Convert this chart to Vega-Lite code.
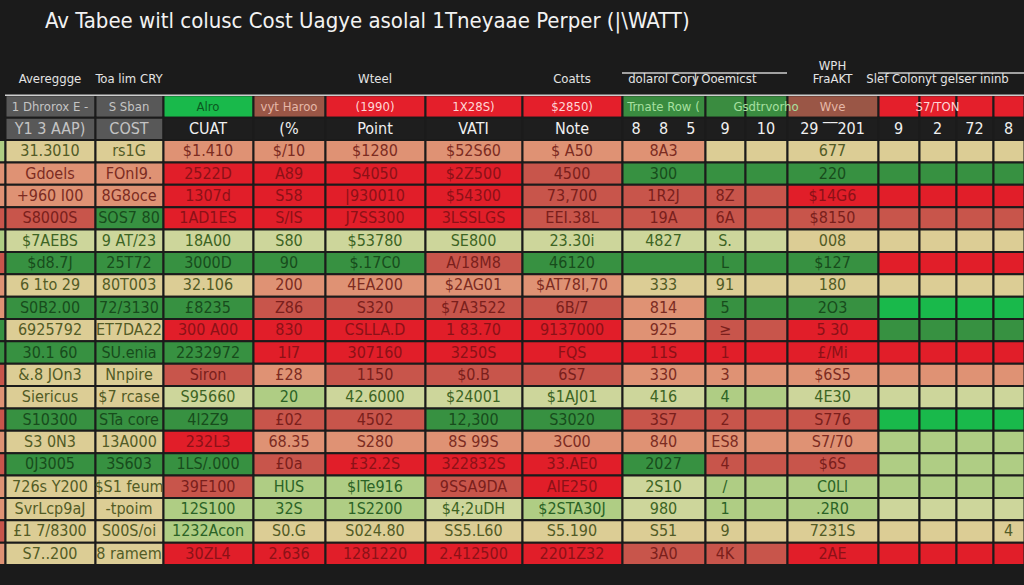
{
"$schema": "https://vega.github.io/schema/vega-lite/v6.json",
"width": 1024, "height": 492, "autosize": "none",
"padding": {"left": 0, "top": 73, "right": 0, "bottom": 20},
"background": "#1b1b1b",
"title": {"text": "Av Tabee witl colusc Cost Uagye asolal 1Tneyaae Perper  (|\\WATT)", "anchor": "start", "frame": "group", "dx": 45, "offset": 10, "baseline": "alphabetic", "fontSize": 22, "font": "DejaVu Sans Condensed, DejaVu Sans, sans-serif", "fontWeight": "normal", "color": "#f2f2f2"},
"config": {"view": {"stroke": null}},
"data": {"values": [
{"row":"h0","col":7,"col2":10,"lv":"ln"},{"row":"h0","col":11,"col2":15,"lv":"ln"},{"row":"h1","col":0,"col2":15,"lv":"ln"},
{"row":"h0","col":0,"lv":"n","t":"Avereggge"},{"row":"h0","col":1,"lv":"n","t":"Toa lim CRY"},{"row":"h0","col":4,"lv":"n","t":"Wteel"},{"row":"h0","col":6,"lv":"n","t":"Coatts"},{"row":"h0","col":7,"lv":"n","t":"dolarol Cory"},{"row":"h0","col":8,"lv":"n","t":"| Ooemicst"},{"row":"h0","col":10,"lv":"n","t":"WPH\nFraAKT"},{"row":"h0","col":12,"lv":"n","t":"Slef Colonyt gelser ininb"},
{"row":"h1","col":0,"lv":"k","t":"1 Dhrorox E -"},{"row":"h1","col":1,"lv":"k","t":"S Sban"},{"row":"h1","col":2,"lv":"G","t":"Alro"},{"row":"h1","col":3,"lv":"b","t":"vyt Haroo"},{"row":"h1","col":4,"lv":"HR","t":"(1990)"},{"row":"h1","col":5,"lv":"HR","t":"1X28S)"},{"row":"h1","col":6,"lv":"HR","t":"$2850)"},{"row":"h1","col":7,"lv":"HG","t":"Trnate Row ("},{"row":"h1","col":8,"lv":"HG","t":""},{"row":"h1","col":9,"lv":"HG","t":"Gsdtrvorho"},{"row":"h1","col":10,"lv":"b","t":"Wve"},{"row":"h1","col":11,"lv":"HR","t":""},{"row":"h1","col":12,"lv":"HR","t":"S7/TON"},{"row":"h1","col":13,"lv":"HR","t":""},{"row":"h1","col":14,"lv":"HR","t":""},
{"row":"h2","col":0,"lv":"k","t":"Y1 3 AAP)"},{"row":"h2","col":1,"lv":"k","t":"COST"},{"row":"h2","col":2,"lv":"d","t":"CUAT"},{"row":"h2","col":3,"lv":"d","t":"(%"},{"row":"h2","col":4,"lv":"d","t":"Point"},{"row":"h2","col":5,"lv":"d","t":"VATI"},{"row":"h2","col":6,"lv":"d","t":"Note"},{"row":"h2","col":7,"lv":"d","t":"8\u00a0\u00a0\u00a0\u00a08\u00a0\u00a0\u00a0\u00a05"},{"row":"h2","col":8,"lv":"d","t":"9"},{"row":"h2","col":9,"lv":"d","t":"10"},{"row":"h2","col":10,"lv":"d","t":"29 ‾‾201"},{"row":"h2","col":11,"lv":"d","t":"9"},{"row":"h2","col":12,"lv":"d","t":"2"},{"row":"h2","col":13,"lv":"d","t":"72"},{"row":"h2","col":14,"lv":"d","t":"8"},
{"row":"1","col":-1,"lv":"l","t":""},{"row":"1","col":0,"lv":"c","t":"31.3010"},{"row":"1","col":1,"lv":"c","t":"rs1G"},{"row":"1","col":2,"lv":"s","t":"$1.410"},{"row":"1","col":3,"lv":"s","t":"$/10"},{"row":"1","col":4,"lv":"s","t":"$1280"},{"row":"1","col":5,"lv":"s","t":"$52S60"},{"row":"1","col":6,"lv":"s","t":"$ A50"},{"row":"1","col":7,"lv":"s","t":"8A3"},{"row":"1","col":8,"lv":"c","t":""},{"row":"1","col":9,"lv":"c","t":""},{"row":"1","col":10,"lv":"c","t":"677"},{"row":"1","col":11,"lv":"c","t":""},{"row":"1","col":12,"lv":"c","t":""},{"row":"1","col":13,"lv":"c","t":""},{"row":"1","col":14,"lv":"c","t":""},
{"row":"2","col":-1,"lv":"s","t":""},{"row":"2","col":0,"lv":"s","t":"Gdoels"},{"row":"2","col":1,"lv":"s","t":"FOnI9."},{"row":"2","col":2,"lv":"R","t":"2522D"},{"row":"2","col":3,"lv":"R","t":"A89"},{"row":"2","col":4,"lv":"R","t":"S4050"},{"row":"2","col":5,"lv":"R","t":"$2Z500"},{"row":"2","col":6,"lv":"r","t":"4500"},{"row":"2","col":7,"lv":"g","t":"300"},{"row":"2","col":8,"lv":"g","t":""},{"row":"2","col":9,"lv":"g","t":""},{"row":"2","col":10,"lv":"g","t":"220"},{"row":"2","col":11,"lv":"g","t":""},{"row":"2","col":12,"lv":"g","t":""},{"row":"2","col":13,"lv":"g","t":""},{"row":"2","col":14,"lv":"g","t":""},
{"row":"3","col":-1,"lv":"s","t":""},{"row":"3","col":0,"lv":"s","t":"+960 I00"},{"row":"3","col":1,"lv":"s","t":"8G8oce"},{"row":"3","col":2,"lv":"R","t":"1307d"},{"row":"3","col":3,"lv":"R","t":"S58"},{"row":"3","col":4,"lv":"R","t":"|930010"},{"row":"3","col":5,"lv":"R","t":"$54300"},{"row":"3","col":6,"lv":"r","t":"73,700"},{"row":"3","col":7,"lv":"r","t":"1R2J"},{"row":"3","col":8,"lv":"r","t":"8Z"},{"row":"3","col":9,"lv":"r","t":""},{"row":"3","col":10,"lv":"R","t":"$14G6"},{"row":"3","col":11,"lv":"R","t":""},{"row":"3","col":12,"lv":"R","t":""},{"row":"3","col":13,"lv":"R","t":""},{"row":"3","col":14,"lv":"R","t":""},
{"row":"4","col":-1,"lv":"r","t":""},{"row":"4","col":0,"lv":"r","t":"S8000S"},{"row":"4","col":1,"lv":"g","t":"SOS7 80"},{"row":"4","col":2,"lv":"R","t":"1AD1ES"},{"row":"4","col":3,"lv":"R","t":"S/IS"},{"row":"4","col":4,"lv":"R","t":"J7SS300"},{"row":"4","col":5,"lv":"R","t":"3LSSLGS"},{"row":"4","col":6,"lv":"r","t":"EEI.38L"},{"row":"4","col":7,"lv":"r","t":"19A"},{"row":"4","col":8,"lv":"r","t":"6A"},{"row":"4","col":9,"lv":"r","t":""},{"row":"4","col":10,"lv":"r","t":"$8150"},{"row":"4","col":11,"lv":"r","t":""},{"row":"4","col":12,"lv":"r","t":""},{"row":"4","col":13,"lv":"r","t":""},{"row":"4","col":14,"lv":"r","t":""},
{"row":"5","col":-1,"lv":"l","t":""},{"row":"5","col":0,"lv":"y","t":"$7AEBS"},{"row":"5","col":1,"lv":"y","t":"9 AT/23"},{"row":"5","col":2,"lv":"y","t":"18A00"},{"row":"5","col":3,"lv":"y","t":"S80"},{"row":"5","col":4,"lv":"y","t":"$53780"},{"row":"5","col":5,"lv":"y","t":"SE800"},{"row":"5","col":6,"lv":"y","t":"23.30i"},{"row":"5","col":7,"lv":"y","t":"4827"},{"row":"5","col":8,"lv":"y","t":"S."},{"row":"5","col":9,"lv":"y","t":""},{"row":"5","col":10,"lv":"c","t":"008"},{"row":"5","col":11,"lv":"c","t":""},{"row":"5","col":12,"lv":"c","t":""},{"row":"5","col":13,"lv":"c","t":""},{"row":"5","col":14,"lv":"c","t":""},
{"row":"6","col":-1,"lv":"r","t":""},{"row":"6","col":0,"lv":"g","t":"$d8.7J"},{"row":"6","col":1,"lv":"g","t":"25T72"},{"row":"6","col":2,"lv":"g","t":"3000D"},{"row":"6","col":3,"lv":"g","t":"90"},{"row":"6","col":4,"lv":"g","t":"$.17C0"},{"row":"6","col":5,"lv":"r","t":"A/18M8"},{"row":"6","col":6,"lv":"g","t":"46120"},{"row":"6","col":7,"lv":"g","t":""},{"row":"6","col":8,"lv":"g","t":"L"},{"row":"6","col":9,"lv":"g","t":""},{"row":"6","col":10,"lv":"g","t":"$127"},{"row":"6","col":11,"lv":"R","t":""},{"row":"6","col":12,"lv":"R","t":""},{"row":"6","col":13,"lv":"R","t":""},{"row":"6","col":14,"lv":"R","t":""},
{"row":"7","col":-1,"lv":"s","t":""},{"row":"7","col":0,"lv":"c","t":"6 1to 29"},{"row":"7","col":1,"lv":"c","t":"80T003"},{"row":"7","col":2,"lv":"c","t":"32.106"},{"row":"7","col":3,"lv":"s","t":"200"},{"row":"7","col":4,"lv":"s","t":"4EA200"},{"row":"7","col":5,"lv":"s","t":"$2AG01"},{"row":"7","col":6,"lv":"s","t":"$AT78I,70"},{"row":"7","col":7,"lv":"c","t":"333"},{"row":"7","col":8,"lv":"c","t":"91"},{"row":"7","col":9,"lv":"c","t":""},{"row":"7","col":10,"lv":"c","t":"180"},{"row":"7","col":11,"lv":"c","t":""},{"row":"7","col":12,"lv":"c","t":""},{"row":"7","col":13,"lv":"c","t":""},{"row":"7","col":14,"lv":"c","t":""},
{"row":"8","col":-1,"lv":"s","t":""},{"row":"8","col":0,"lv":"g","t":"S0B2.00"},{"row":"8","col":1,"lv":"g","t":"72/3130"},{"row":"8","col":2,"lv":"g","t":"£8235"},{"row":"8","col":3,"lv":"r","t":"Z86"},{"row":"8","col":4,"lv":"r","t":"S320"},{"row":"8","col":5,"lv":"r","t":"$7A3522"},{"row":"8","col":6,"lv":"r","t":"6B/7"},{"row":"8","col":7,"lv":"s","t":"814"},{"row":"8","col":8,"lv":"g","t":"5"},{"row":"8","col":9,"lv":"g","t":""},{"row":"8","col":10,"lv":"g","t":"2O3"},{"row":"8","col":11,"lv":"G","t":""},{"row":"8","col":12,"lv":"G","t":""},{"row":"8","col":13,"lv":"G","t":""},{"row":"8","col":14,"lv":"G","t":""},
{"row":"9","col":-1,"lv":"g","t":""},{"row":"9","col":0,"lv":"c","t":"6925792"},{"row":"9","col":1,"lv":"c","t":"ET7DA22"},{"row":"9","col":2,"lv":"R","t":"300 A00"},{"row":"9","col":3,"lv":"R","t":"830"},{"row":"9","col":4,"lv":"R","t":"CSLLA.D"},{"row":"9","col":5,"lv":"R","t":"1 83.70"},{"row":"9","col":6,"lv":"R","t":"9137000"},{"row":"9","col":7,"lv":"s","t":"925"},{"row":"9","col":8,"lv":"r","t":"≥"},{"row":"9","col":9,"lv":"r","t":""},{"row":"9","col":10,"lv":"R","t":"5 30"},{"row":"9","col":11,"lv":"g","t":""},{"row":"9","col":12,"lv":"g","t":""},{"row":"9","col":13,"lv":"g","t":""},{"row":"9","col":14,"lv":"g","t":""},
{"row":"10","col":-1,"lv":"g","t":""},{"row":"10","col":0,"lv":"g","t":"30.1 60"},{"row":"10","col":1,"lv":"g","t":"SU.enia"},{"row":"10","col":2,"lv":"g","t":"2232972"},{"row":"10","col":3,"lv":"R","t":"1I7"},{"row":"10","col":4,"lv":"R","t":"307160"},{"row":"10","col":5,"lv":"R","t":"3250S"},{"row":"10","col":6,"lv":"R","t":"FQS"},{"row":"10","col":7,"lv":"R","t":"11S"},{"row":"10","col":8,"lv":"R","t":"1"},{"row":"10","col":9,"lv":"R","t":""},{"row":"10","col":10,"lv":"R","t":"£/Mi"},{"row":"10","col":11,"lv":"R","t":""},{"row":"10","col":12,"lv":"R","t":""},{"row":"10","col":13,"lv":"R","t":""},{"row":"10","col":14,"lv":"R","t":""},
{"row":"11","col":-1,"lv":"r","t":""},{"row":"11","col":0,"lv":"c","t":"&.8 JOn3"},{"row":"11","col":1,"lv":"c","t":"Nnpire"},{"row":"11","col":2,"lv":"r","t":"Siron"},{"row":"11","col":3,"lv":"s","t":"£28"},{"row":"11","col":4,"lv":"r","t":"1150"},{"row":"11","col":5,"lv":"r","t":"$0.B"},{"row":"11","col":6,"lv":"r","t":"6S7"},{"row":"11","col":7,"lv":"s","t":"330"},{"row":"11","col":8,"lv":"s","t":"3"},{"row":"11","col":9,"lv":"s","t":""},{"row":"11","col":10,"lv":"s","t":"$6S5"},{"row":"11","col":11,"lv":"s","t":""},{"row":"11","col":12,"lv":"s","t":""},{"row":"11","col":13,"lv":"s","t":""},{"row":"11","col":14,"lv":"s","t":""},
{"row":"12","col":-1,"lv":"s","t":""},{"row":"12","col":0,"lv":"c","t":"Siericus"},{"row":"12","col":1,"lv":"c","t":"$7 rcase"},{"row":"12","col":2,"lv":"y","t":"S95660"},{"row":"12","col":3,"lv":"l","t":"20"},{"row":"12","col":4,"lv":"y","t":"42.6000"},{"row":"12","col":5,"lv":"y","t":"$24001"},{"row":"12","col":6,"lv":"y","t":"$1AJ01"},{"row":"12","col":7,"lv":"y","t":"416"},{"row":"12","col":8,"lv":"l","t":"4"},{"row":"12","col":9,"lv":"l","t":""},{"row":"12","col":10,"lv":"y","t":"4E30"},{"row":"12","col":11,"lv":"y","t":""},{"row":"12","col":12,"lv":"y","t":""},{"row":"12","col":13,"lv":"y","t":""},{"row":"12","col":14,"lv":"y","t":""},
{"row":"13","col":-1,"lv":"r","t":""},{"row":"13","col":0,"lv":"g","t":"S10300"},{"row":"13","col":1,"lv":"g","t":"STa core"},{"row":"13","col":2,"lv":"g","t":"4l2Z9"},{"row":"13","col":3,"lv":"r","t":"£02"},{"row":"13","col":4,"lv":"r","t":"4502"},{"row":"13","col":5,"lv":"g","t":"12,300"},{"row":"13","col":6,"lv":"g","t":"S3020"},{"row":"13","col":7,"lv":"r","t":"3S7"},{"row":"13","col":8,"lv":"r","t":"2"},{"row":"13","col":9,"lv":"r","t":""},{"row":"13","col":10,"lv":"r","t":"S776"},{"row":"13","col":11,"lv":"G","t":""},{"row":"13","col":12,"lv":"G","t":""},{"row":"13","col":13,"lv":"G","t":""},{"row":"13","col":14,"lv":"G","t":""},
{"row":"14","col":-1,"lv":"s","t":""},{"row":"14","col":0,"lv":"c","t":"S3 0N3"},{"row":"14","col":1,"lv":"c","t":"13A000"},{"row":"14","col":2,"lv":"R","t":"232L3"},{"row":"14","col":3,"lv":"s","t":"68.35"},{"row":"14","col":4,"lv":"s","t":"S280"},{"row":"14","col":5,"lv":"s","t":"8S 99S"},{"row":"14","col":6,"lv":"s","t":"3C00"},{"row":"14","col":7,"lv":"s","t":"840"},{"row":"14","col":8,"lv":"s","t":"ES8"},{"row":"14","col":9,"lv":"s","t":""},{"row":"14","col":10,"lv":"s","t":"S7/70"},{"row":"14","col":11,"lv":"l","t":""},{"row":"14","col":12,"lv":"l","t":""},{"row":"14","col":13,"lv":"l","t":""},{"row":"14","col":14,"lv":"l","t":""},
{"row":"15","col":-1,"lv":"r","t":""},{"row":"15","col":0,"lv":"g","t":"0J3005"},{"row":"15","col":1,"lv":"g","t":"3S603"},{"row":"15","col":2,"lv":"g","t":"1LS/.000"},{"row":"15","col":3,"lv":"r","t":"£0a"},{"row":"15","col":4,"lv":"R","t":"£32.2S"},{"row":"15","col":5,"lv":"R","t":"322832S"},{"row":"15","col":6,"lv":"R","t":"33.AE0"},{"row":"15","col":7,"lv":"g","t":"2027"},{"row":"15","col":8,"lv":"r","t":"4"},{"row":"15","col":9,"lv":"r","t":""},{"row":"15","col":10,"lv":"r","t":"$6S"},{"row":"15","col":11,"lv":"l","t":""},{"row":"15","col":12,"lv":"l","t":""},{"row":"15","col":13,"lv":"l","t":""},{"row":"15","col":14,"lv":"l","t":""},
{"row":"16","col":-1,"lv":"s","t":""},{"row":"16","col":0,"lv":"c","t":"726s Y200"},{"row":"16","col":1,"lv":"c","t":"$S1 feum"},{"row":"16","col":2,"lv":"r","t":"39E100"},{"row":"16","col":3,"lv":"l","t":"HUS"},{"row":"16","col":4,"lv":"l","t":"$ITe916"},{"row":"16","col":5,"lv":"r","t":"9SSA9DA"},{"row":"16","col":6,"lv":"R","t":"AIE250"},{"row":"16","col":7,"lv":"y","t":"2S10"},{"row":"16","col":8,"lv":"l","t":"/"},{"row":"16","col":9,"lv":"l","t":""},{"row":"16","col":10,"lv":"l","t":"C0Ll"},{"row":"16","col":11,"lv":"l","t":""},{"row":"16","col":12,"lv":"l","t":""},{"row":"16","col":13,"lv":"l","t":""},{"row":"16","col":14,"lv":"l","t":""},
{"row":"17","col":-1,"lv":"s","t":""},{"row":"17","col":0,"lv":"c","t":"SvrLcp9aJ"},{"row":"17","col":1,"lv":"c","t":"-tpoim"},{"row":"17","col":2,"lv":"l","t":"12S100"},{"row":"17","col":3,"lv":"l","t":"32S"},{"row":"17","col":4,"lv":"l","t":"1S2200"},{"row":"17","col":5,"lv":"y","t":"$4;2uDH"},{"row":"17","col":6,"lv":"l","t":"$2STA30J"},{"row":"17","col":7,"lv":"y","t":"980"},{"row":"17","col":8,"lv":"l","t":"1"},{"row":"17","col":9,"lv":"l","t":""},{"row":"17","col":10,"lv":"l","t":".2R0"},{"row":"17","col":11,"lv":"y","t":""},{"row":"17","col":12,"lv":"y","t":""},{"row":"17","col":13,"lv":"y","t":""},{"row":"17","col":14,"lv":"y","t":""},
{"row":"18","col":-1,"lv":"r","t":""},{"row":"18","col":0,"lv":"c","t":"£1 7/8300"},{"row":"18","col":1,"lv":"c","t":"S00S/oi"},{"row":"18","col":2,"lv":"l","t":"1232Acon"},{"row":"18","col":3,"lv":"c","t":"S0.G"},{"row":"18","col":4,"lv":"c","t":"S024.80"},{"row":"18","col":5,"lv":"c","t":"SS5.L60"},{"row":"18","col":6,"lv":"c","t":"S5.190"},{"row":"18","col":7,"lv":"c","t":"S51"},{"row":"18","col":8,"lv":"c","t":"9"},{"row":"18","col":9,"lv":"c","t":""},{"row":"18","col":10,"lv":"c","t":"7231S"},{"row":"18","col":11,"lv":"c","t":""},{"row":"18","col":12,"lv":"c","t":""},{"row":"18","col":13,"lv":"c","t":""},{"row":"18","col":14,"lv":"c","t":"4"},
{"row":"19","col":-1,"lv":"s","t":""},{"row":"19","col":0,"lv":"c","t":"S7..200"},{"row":"19","col":1,"lv":"c","t":"8 ramem"},{"row":"19","col":2,"lv":"R","t":"30ZL4"},{"row":"19","col":3,"lv":"R","t":"2.636"},{"row":"19","col":4,"lv":"R","t":"1281220"},{"row":"19","col":5,"lv":"R","t":"2.412500"},{"row":"19","col":6,"lv":"R","t":"2201Z32"},{"row":"19","col":7,"lv":"r","t":"3A0"},{"row":"19","col":8,"lv":"r","t":"4K"},{"row":"19","col":9,"lv":"r","t":""},{"row":"19","col":10,"lv":"R","t":"2AE"},{"row":"19","col":11,"lv":"R","t":""},{"row":"19","col":12,"lv":"R","t":""},{"row":"19","col":13,"lv":"R","t":""},{"row":"19","col":14,"lv":"R","t":""}
]},
"layer": [
{"transform": [{"filter": "datum.lv != 'n' && datum.lv != 'ln'"}],
 "mark": {"type": "rect", "stroke": "#1b1b1b", "strokeWidth": 2},
 "encoding": {
  "x": {"field": "col", "type": "quantitative", "bin": {"binned": true, "step": 1}, "scale": {"domain": [-1,0,1,2,3,4,5,6,7,8,9,10,11,12,13,14,15], "range": [-80,5,95,163,253,325,425,522,622,705,745,787,878,919,956,993,1024], "zero": false, "nice": false}, "axis": null},
  "y": {"field": "row", "type": "ordinal", "scale": {"domain": ["h0","h1","h2","1","2","3","4","5","6","7","8","9","10","11","12","13","14","15","16","17","18","19"], "paddingInner": 0, "paddingOuter": 0}, "axis": null},
  "color": {"field": "lv", "type": "nominal", "scale": {"domain": ["R","r","s","c","y","l","g","G","k","d","b","HR","HG","n"], "range": ["#e11e29","#c8554b","#df9274","#dccd95","#cdd69b","#afcd84","#379141","#19b94b","#585858","#1e1e1e","#9a5646","#e41f2b","#3a8c40","#1b1b1b"]}, "legend": null}
 }},
{"transform": [{"filter": "datum.lv == 'ln'"}],
 "mark": {"type": "rule", "color": "#cfcfcf", "strokeWidth": 1.5},
 "encoding": {
  "x": {"field": "col", "type": "quantitative", "scale": {"domain": [-1,0,1,2,3,4,5,6,7,8,9,10,11,12,13,14,15], "range": [-80,5,95,163,253,325,425,522,622,705,745,787,878,919,956,993,1024], "zero": false, "nice": false}, "axis": null},
  "x2": {"field": "col2"},
  "y": {"field": "row", "type": "ordinal", "bandPosition": 0, "axis": null}
 }},
{"transform": [{"filter": "datum.row != 'h0' && datum.lv != 'ln'"}],
 "mark": {"type": "text", "font": "DejaVu Sans Condensed, DejaVu Sans, sans-serif"},
 "encoding": {
  "x": {"field": "col", "type": "quantitative", "scale": {"domain": [-1,0,1,2,3,4,5,6,7,8,9,10,11,12,13,14], "range": [-37.5,50,129,208,289,375,473.5,572,663.5,725,766,832.5,898.5,937.5,974.5,1008.5], "zero": false, "nice": false}, "axis": null},
  "y": {"field": "row", "type": "ordinal", "axis": null},
  "text": {"field": "t"},
  "size": {"condition": {"test": "datum.row == 'h1'", "value": 13}, "value": 16},
  "color": {"field": "lv", "type": "nominal", "scale": {"domain": ["R","r","s","c","y","l","g","G","k","d","b","HR","HG","n"], "range": ["#8c1117","#7a1f1c","#7c2c22","#525b26","#3d6424","#2b6326","#174c1c","#0b5a21","#c4c4c4","#f0f0f0","#e6b8a8","#ffd6d6","#a7e0a0","#e0e0e0"]}, "legend": null}
 }},
{"transform": [{"filter": "datum.lv == 'n' && datum.col != 10"}],
 "mark": {"type": "text", "font": "DejaVu Sans Condensed, DejaVu Sans, sans-serif", "fontSize": 13, "color": "#e4e4e4", "baseline": "bottom", "dy": 2},
 "encoding": {
  "x": {"field": "col", "type": "quantitative", "scale": {"domain": [-1,0,1,2,3,4,5,6,7,8,9,10,11,12,13,14], "range": [-37.5,50,129,208,289,375,473.5,572,663.5,725,766,832.5,898.5,937.5,974.5,1008.5], "zero": false, "nice": false}, "axis": null},
  "y": {"field": "row", "type": "ordinal", "axis": null},
  "text": {"field": "t"}
 }},
{"transform": [{"filter": "datum.lv == 'n' && datum.col == 10"}],
 "mark": {"type": "text", "font": "DejaVu Sans Condensed, DejaVu Sans, sans-serif", "fontSize": 13, "lineHeight": 13, "color": "#e4e4e4", "lineBreak": "\n", "baseline": "bottom", "dy": -11},
 "encoding": {
  "x": {"field": "col", "type": "quantitative", "scale": {"domain": [-1,0,1,2,3,4,5,6,7,8,9,10,11,12,13,14], "range": [-37.5,50,129,208,289,375,473.5,572,663.5,725,766,832.5,898.5,937.5,974.5,1008.5], "zero": false, "nice": false}, "axis": null},
  "y": {"field": "row", "type": "ordinal", "axis": null},
  "text": {"field": "t"}
 }}
],
"resolve": {"scale": {"x": "independent", "color": "independent"}}
}
